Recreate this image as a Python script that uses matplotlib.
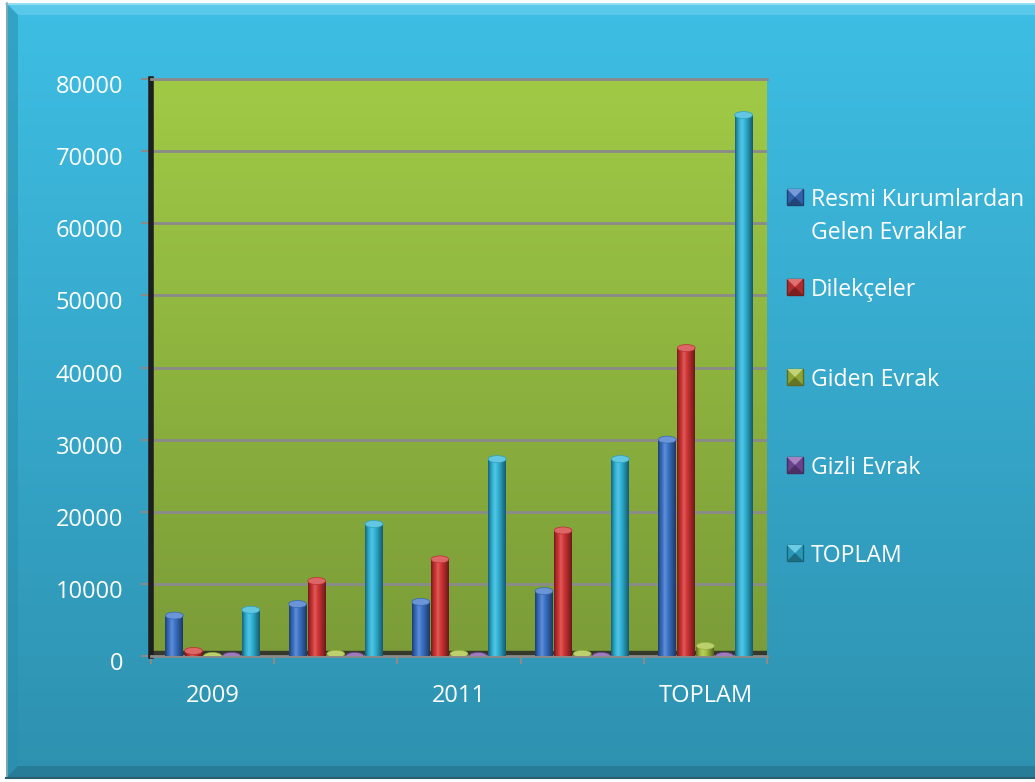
import numpy as np
import matplotlib
matplotlib.use('Agg')
import matplotlib.pyplot as plt
import matplotlib.transforms as mtransforms
from matplotlib.patches import Ellipse, Rectangle, Polygon
from matplotlib.colors import to_rgb

# ---------------- data ----------------
categories = ['2009', '2010', '2011', '2012', 'TOPLAM']
tick_labels = ['2009', '', '2011', '', 'TOPLAM']
series_names = ['Resmi Kurumlardan\nGelen Evraklar', 'Dilekçeler', 'Giden Evrak',
                'Gizli Evrak', 'TOPLAM']
resmi = [5600, 7200, 7500, 9000, 30000]
dilekceler = [700, 10400, 13400, 17400, 42700]
giden = [0, 300, 300, 300, 1400]
gizli = [0, 0, 0, 0, 0]
toplam = [6400, 18300, 27300, 27300, 75000]
series = [resmi, dilekceler, giden, gizli, toplam]
colors = ['#3a72c8', '#d23434', '#a6c23e', '#7e4fa6', '#2fb4d8']
y_ticks = list(range(0, 80001, 10000))

plt.rcParams['font.family'] = ['Open Sans', 'DejaVu Sans']
FS = 17
LFS = 16.6

W, H = 1035, 782
fig = plt.figure(figsize=(W / 100, H / 100), dpi=100, facecolor='white')

# ---------------- background panel ----------------
bg = fig.add_axes([0, 0, 1, 1])
bg.set_xlim(0, W)
bg.set_ylim(H, 0)
bg.axis('off')
top_c = np.array(to_rgb('#3ebee4'))
bot_c = np.array(to_rgb('#2e91b0'))
t = np.linspace(0, 1, 256)[:, None, None]
grad = top_c * (1 - t) + bot_c * t
bg.imshow(grad, extent=(6, W, 778, 3), aspect='auto', origin='upper', zorder=0)
bg.set_xlim(0, W)
bg.set_ylim(H, 0)
bv = 12
bg.add_patch(Polygon([(6, 3), (W, 3), (W, 3 + bv), (6 + bv, 3 + bv)],
                     closed=True, facecolor='#7fd8f2', alpha=0.45, lw=0, zorder=1))
bg.add_patch(Polygon([(6, 3), (6 + bv, 3 + bv), (6 + bv, 778 - bv), (6, 778)],
                     closed=True, facecolor='#2a8fae', alpha=0.55, lw=0, zorder=1))
bg.add_patch(Polygon([(6, 778), (6 + bv, 778 - bv), (W, 778 - bv), (W, 778)],
                     closed=True, facecolor='#236f88', alpha=0.6, lw=0, zorder=1))
bg.plot([6, W], [3.5, 3.5], color='#9fe3f5', lw=1.2, zorder=2)
bg.plot([6.5, 6.5], [3, 778], color='#8aa9b5', lw=1.2, zorder=2)
bg.plot([6, W], [777.5, 777.5], color='#2b5f70', lw=1.5, zorder=2)

# ---------------- main axes ----------------
L, R, T, B = 151, 767, 79, 656
ax = fig.add_axes([L / W, 1 - B / H, (R - L) / W, (B - T) / H])
ax.patch.set_visible(False)
x = np.arange(len(categories))
ax.set_xlim(-0.5, len(categories) - 0.5)
ax.set_ylim(0, 80000)

wall_top = np.array(to_rgb('#a0ca46'))
wall_bot = np.array(to_rgb('#7b9c38'))
wgrad = wall_top * (1 - t) + wall_bot * t
ax.imshow(wgrad, extent=(-0.5, len(categories) - 0.5, 0, 80000), aspect='auto',
          origin='upper', zorder=0)
ax.set_xlim(-0.5, len(categories) - 0.5)
ax.set_ylim(0, 80000)
ax.axhspan(0, 650, color='#35382a', zorder=0.6)

ax.set_yticks(y_ticks)
ax.yaxis.grid(True, color='#8a8a8a', lw=2, zorder=0.5)
ax.set_axisbelow(True)

px_per_unit = (B - T) / 80000.0
cap_h = 7 / px_per_unit
bw = 0.145
step = 0.155


def shade(c, s):
    c = np.array(c)
    if s >= 1:
        return np.clip(c + (1 - c) * (s - 1), 0, 1)
    return np.clip(c * s, 0, 1)


tt = np.linspace(0, 1, 64)
prof = np.interp(tt, [0, 0.15, 0.38, 0.7, 1], [0.55, 0.85, 1.2, 0.85, 0.5])

for i, vals in enumerate(series):
    base = to_rgb(colors[i])
    bars = ax.bar(x + (i - 2) * step, vals, width=bw, color=colors[i], zorder=3, lw=0)
    body = np.array([shade(base, s) for s in prof])[None, :, :]
    for p in bars:
        x0, w, h = p.get_x(), p.get_width(), p.get_height()
        if h > 0:
            im = ax.imshow(body, extent=(x0, x0 + w, 0, h), aspect='auto',
                           origin='upper', zorder=3.5)
            im.set_clip_path(p)
        ax.add_patch(Ellipse((x0 + w / 2, h), w, cap_h,
                             facecolor=shade(base, 1.25), edgecolor=shade(base, 0.9),
                             lw=0.5, zorder=4))
ax.set_xlim(-0.5, len(categories) - 0.5)
ax.set_ylim(0, 80000)

ax.spines['right'].set_visible(False)
ax.spines['top'].set_color('#8a8a8a')
ax.spines['top'].set_linewidth(2)
ax.spines['left'].set_color('#1e1e1e')
ax.spines['left'].set_linewidth(4)
ax.spines['bottom'].set_color('#8a8a8a')
ax.spines['bottom'].set_linewidth(2)

ax.tick_params(axis='y', colors='#8a8a8a', labelcolor='white', length=7, width=1.5,
               labelsize=FS, pad=13)
offset = mtransforms.ScaledTranslation(0, -5 / 100, fig.dpi_scale_trans)
for lab in ax.get_yticklabels():
    lab.set_transform(lab.get_transform() + offset)

ax.set_xticks(x)
ax.set_xticklabels(tick_labels)
ax.set_xticks(np.arange(-0.5, len(categories), 1.0), minor=True)
ax.tick_params(axis='x', which='major', length=0, labelcolor='white', labelsize=FS, pad=20)
ax.tick_params(axis='x', which='minor', length=6, width=1.5, color='#8a8a8a')

# ---------------- legend ----------------
leg_y = [197, 287, 377, 465, 553]
for i, name in enumerate(series_names):
    yc = leg_y[i]
    base = to_rgb(colors[i])
    sx, sy, sz = 787, yc - 8, 16
    bg.add_patch(Rectangle((sx, sy), sz, sz, facecolor=shade(base, 0.85),
                           edgecolor=shade(base, 0.55), lw=1, zorder=3))
    cx, cy = sx + sz / 2, sy + sz / 2
    bg.add_patch(Polygon([(sx, sy), (sx + sz, sy), (cx, cy)], closed=True,
                         facecolor=shade(base, 1.3), lw=0, zorder=4))
    bg.add_patch(Polygon([(sx, sy + sz), (sx + sz, sy + sz), (cx, cy)], closed=True,
                         facecolor=shade(base, 0.6), lw=0, zorder=4))
    for k, line in enumerate(name.split('\n')):
        bg.text(811, yc + 3 + k * 33, line, color='white', fontsize=LFS,
                va='center', ha='left', zorder=5)

fig.savefig('out.png', dpi=100, facecolor='white')
